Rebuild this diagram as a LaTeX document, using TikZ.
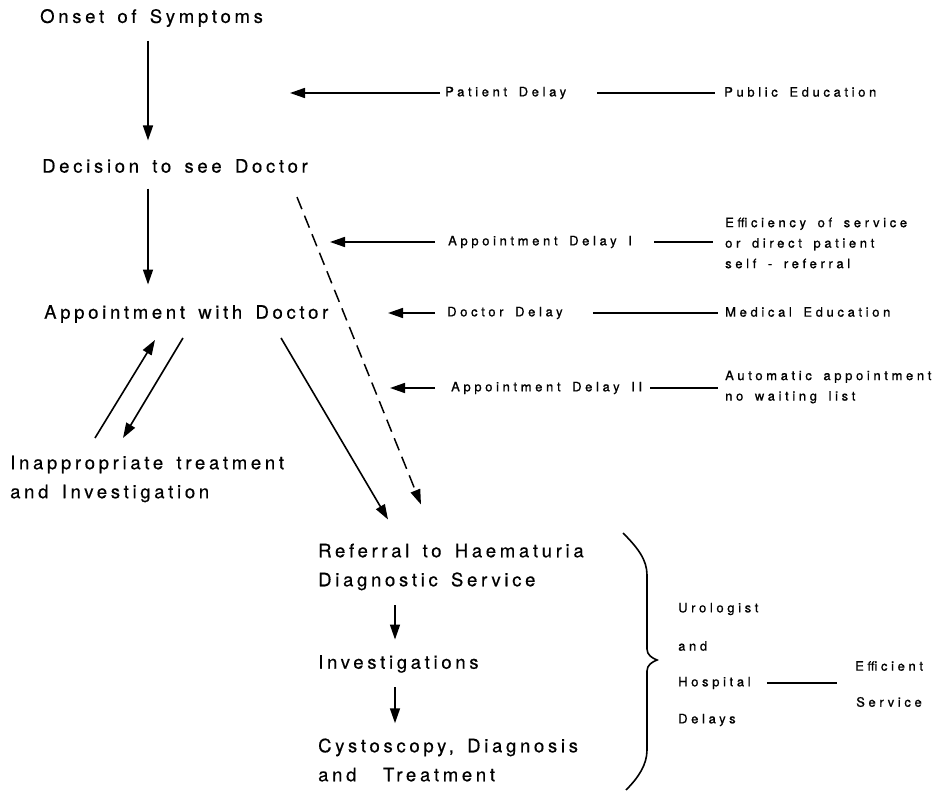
\documentclass[tikz,border=0pt]{standalone}
\usepackage{fontspec}
\setmainfont{TeX Gyre Heros}
\newfontfamily\bigf[LetterSpace=20,WordSpace=1.5,FakeBold=0.5]{TeX Gyre Heros}
\newfontfamily\smallf[LetterSpace=28,WordSpace=1.6,FakeBold=1]{TeX Gyre Heros}
\usetikzlibrary{arrows.meta,calc}
\begin{document}
\begin{tikzpicture}[x=1pt,y=-1pt,
  big/.style={inner sep=0pt, anchor=west, align=left, font=\bigf\fontsize{18.5}{29}\selectfont},
  small/.style={inner sep=0pt, anchor=west, align=left, font=\smallf\fontsize{13}{20.5}\selectfont},
  arr/.style={line width=1.6pt, -{Triangle[length=15pt,width=10pt]}},
  link/.style={line width=1.7pt},
  dashline/.style={line width=1.5pt, dash pattern=on 13pt off 7pt, -{Triangle[length=15pt,width=10pt]}},
  gaps/.style 2 args={shorten <=#1, shorten >=#2}]
\useasboundingbox (0,0) rectangle (940,791);

% main flow
\node[big] (onset) at (40,18) {Onset of Symptoms};
\node[big] (decision) at (42,166) {Decision to see Doctor};
\node[big] (appt) at (44,314) {Appointment with Doctor};
\node[big] (inapp) at (10,479) {Inappropriate treatment\\and Investigation};
\node[big] (referral) at (318,567) {Referral to Haematuria\\Diagnostic Service};
\node[big] (invest) at (318,664) {Investigations};
\node[big] (cysto) at (318,760) {Cystoscopy, Diagnosis\\and\ \ Treatment};

% delays
\node[small] (pd) at (445,93) {Patient Delay};
\node[small] (pe) at (724,92) {Public Education};
\node[small] (ad1) at (448,242) {Appointment Delay I};
\node[small] (eff) at (725,243) {Efficiency of service\\or direct patient\\self - referral};
\node[small] (dd) at (447,313) {Doctor Delay};
\node[small] (me) at (725,312) {Medical Education};
\node[small] (ad2) at (451,388) {Appointment Delay II};
\node[small] (auto) at (725,387) {Automatic appointment\\no waiting list};
\node[small] (uro) at (678,609) {Urologist};
\node[small] (and) at (678,646) {and};
\node[small] (hosp) at (678,683) {Hospital};
\node[small] (delays) at (678,720) {Delays};
\node[small] (effs) at (855,666) {Efficient};
\node[small] (serv) at (856,702) {Service};

\coordinate (ax) at (148,0);
\coordinate (bx) at (395,0);
\coordinate (pdt) at (290,93);
\coordinate (ad1t) at (330,242);
\coordinate (ddt) at (388,313);
\coordinate (ad2t) at (390,388);

% vertical arrows
\draw[arr, gaps={13.5pt}{18.5pt}] (onset.south -| ax) -- (decision.north -| ax);
\draw[arr, gaps={15.5pt}{20.5pt}] (decision.south -| ax) -- (appt.north -| ax);
\draw[arr, gaps={15pt}{15.5pt}] (referral.south -| bx) -- (invest.north -| bx);
\draw[arr, gaps={14.5pt}{15pt}] (invest.south -| bx) -- (cysto.north -| bx);

% appointment <-> inappropriate
\draw[arr] ($(appt.south west)+(51,115)$) -- ($(appt.south west)+(111,17)$);
\draw[arr] ($(appt.south west)+(139,15)$) -- ($(appt.south west)+(79,115)$);
% appointment -> referral
\draw[arr] ($(appt.south west)+(237,15)$) -- ($(referral.north west)+(70,-24)$);
% dashed decision -> referral
\draw[dashline] ($(decision.south west)+(255,24)$) -- ($(referral.north west)+(103,-39)$);

% delay arrows
\draw[arr, shorten <=5pt] (pd.west) -- (pdt);
\draw[arr, shorten <=13pt] (ad1.west) -- (ad1t);
\draw[arr, shorten <=12pt] (dd.west) -- (ddt);
\draw[arr, shorten <=16pt] (ad2.west) -- (ad2t);

% links to remedies
\draw[link, gaps={31pt}{9pt}] (pd.east) -- (pd.east -| pe.west);
\draw[link, gaps={22pt}{12pt}] (ad1.east) -- (ad1.east -| eff.west);
\draw[link, gaps={30pt}{7pt}] (dd.east) -- (dd.east -| me.west);
\draw[link, gaps={8pt}{7pt}] (ad2.east) -- (ad2.east -| auto.west);
\draw[link, gaps={16pt}{18pt}] (hosp.east) -- (hosp.east -| effs.west);

% brace
\draw[line width=1.6pt] (623,533) .. controls (638,548) and (647,560) .. (647,575)
  -- (647,649) .. controls (647,655) and (652,658) .. (657,660)
  .. controls (652,662) and (647,665) .. (647,671)
  -- (647,750) .. controls (647,765) and (638,778) .. (626,790);
\end{tikzpicture}
\end{document}
